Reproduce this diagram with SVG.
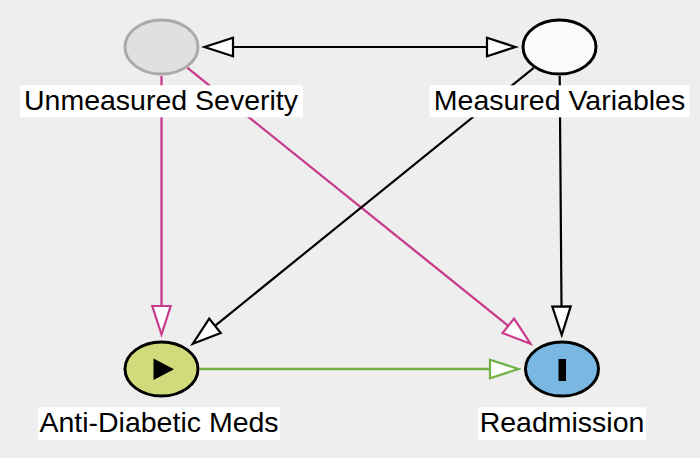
<svg xmlns="http://www.w3.org/2000/svg" width="700" height="458" viewBox="0 0 700 458">
  <style>
    .edge { fill: none; }
    .blk { stroke: #000000; stroke-width: 2.2; }
    .pnk { stroke: #c83a8b; stroke-width: 2.3; }
    .grn { stroke: #71b043; stroke-width: 2.6; }
    .node { stroke-width: 3; }
    .lblbg { fill: #ffffff; }
    .lbl { font-family: "Liberation Sans", Arial, Helvetica, sans-serif; font-size: 28.5px; fill: #000000; text-anchor: middle; }
  </style>
  <defs>
    <marker id="ahBlk" markerUnits="userSpaceOnUse" markerWidth="40" markerHeight="30" viewBox="-4 -15 40 30" refX="0" refY="0" orient="auto-start-reverse" overflow="visible">
      <path d="M0,-9.2 L28.5,0 L0,9.2 Z" fill="#ffffff" stroke="#000000" stroke-width="2.2"/>
    </marker>
    <marker id="ahPnk" markerUnits="userSpaceOnUse" markerWidth="40" markerHeight="30" viewBox="-4 -15 40 30" refX="0" refY="0" orient="auto" overflow="visible">
      <path d="M0,-9.2 L28.5,0 L0,9.2 Z" fill="#ffffff" stroke="#c83a8b" stroke-width="2.2"/>
    </marker>
    <marker id="ahGrn" markerUnits="userSpaceOnUse" markerWidth="40" markerHeight="30" viewBox="-4 -15 40 30" refX="0" refY="0" orient="auto" overflow="visible">
      <path d="M0,-9.2 L28.5,0 L0,9.2 Z" fill="#ffffff" stroke="#71b043" stroke-width="2.2"/>
    </marker>
  </defs>

  <rect x="0" y="0" width="700" height="458" fill="#eeeeee"/>

  <g id="connectors">
    <line class="edge blk" x1="233" y1="47" x2="487" y2="47" marker-start="url(#ahBlk)" marker-end="url(#ahBlk)"/>
    <line class="edge pnk" x1="161.5" y1="76" x2="161.5" y2="306" marker-end="url(#ahPnk)"/>
    <line class="edge pnk" x1="187.2" y1="67.7" x2="508.3" y2="325.8" marker-end="url(#ahPnk)"/>
    <line class="edge blk" x1="533.8" y1="67.8" x2="215" y2="325.8" marker-end="url(#ahBlk)"/>
    <line class="edge blk" x1="559.7" y1="76" x2="561.5" y2="306.5" marker-end="url(#ahBlk)"/>
    <line class="edge grn" x1="200" y1="369" x2="490" y2="369" marker-end="url(#ahGrn)"/>
  </g>

  <g id="node-unmeasured-severity">
    <ellipse class="node" cx="161.5" cy="47" rx="36.5" ry="27" fill="#e0e0e0" stroke="#aaaaaa"/>
    <rect class="lblbg" x="20" y="85.3" width="283" height="32"/>
    <text class="lbl" x="161" y="110">Unmeasured Severity</text>
  </g>

  <g id="node-measured-variables">
    <ellipse class="node" cx="559.5" cy="47" rx="36.5" ry="27" fill="#fbfbfb" stroke="#000000"/>
    <rect class="lblbg" x="429.5" y="85.3" width="260" height="32"/>
    <text class="lbl" x="559.5" y="110">Measured Variables</text>
  </g>

  <g id="node-anti-diabetic-meds">
    <ellipse class="node" cx="161.5" cy="369" rx="36.5" ry="27" fill="#d1db7b" stroke="#000000"/>
    <path d="M153.5,358.5 L153.5,380 L174,369.2 Z" fill="#000000"/>
    <rect class="lblbg" x="38" y="407.3" width="242" height="32.5"/>
    <text class="lbl" x="159" y="432">Anti-Diabetic Meds</text>
  </g>

  <g id="node-readmission">
    <ellipse class="node" cx="562" cy="369" rx="36.5" ry="27" fill="#79b8e3" stroke="#000000"/>
    <rect x="558.5" y="359" width="7.5" height="22" fill="#000000"/>
    <rect class="lblbg" x="478" y="407.3" width="168" height="32.5"/>
    <text class="lbl" x="562" y="432">Readmission</text>
  </g>
</svg>
